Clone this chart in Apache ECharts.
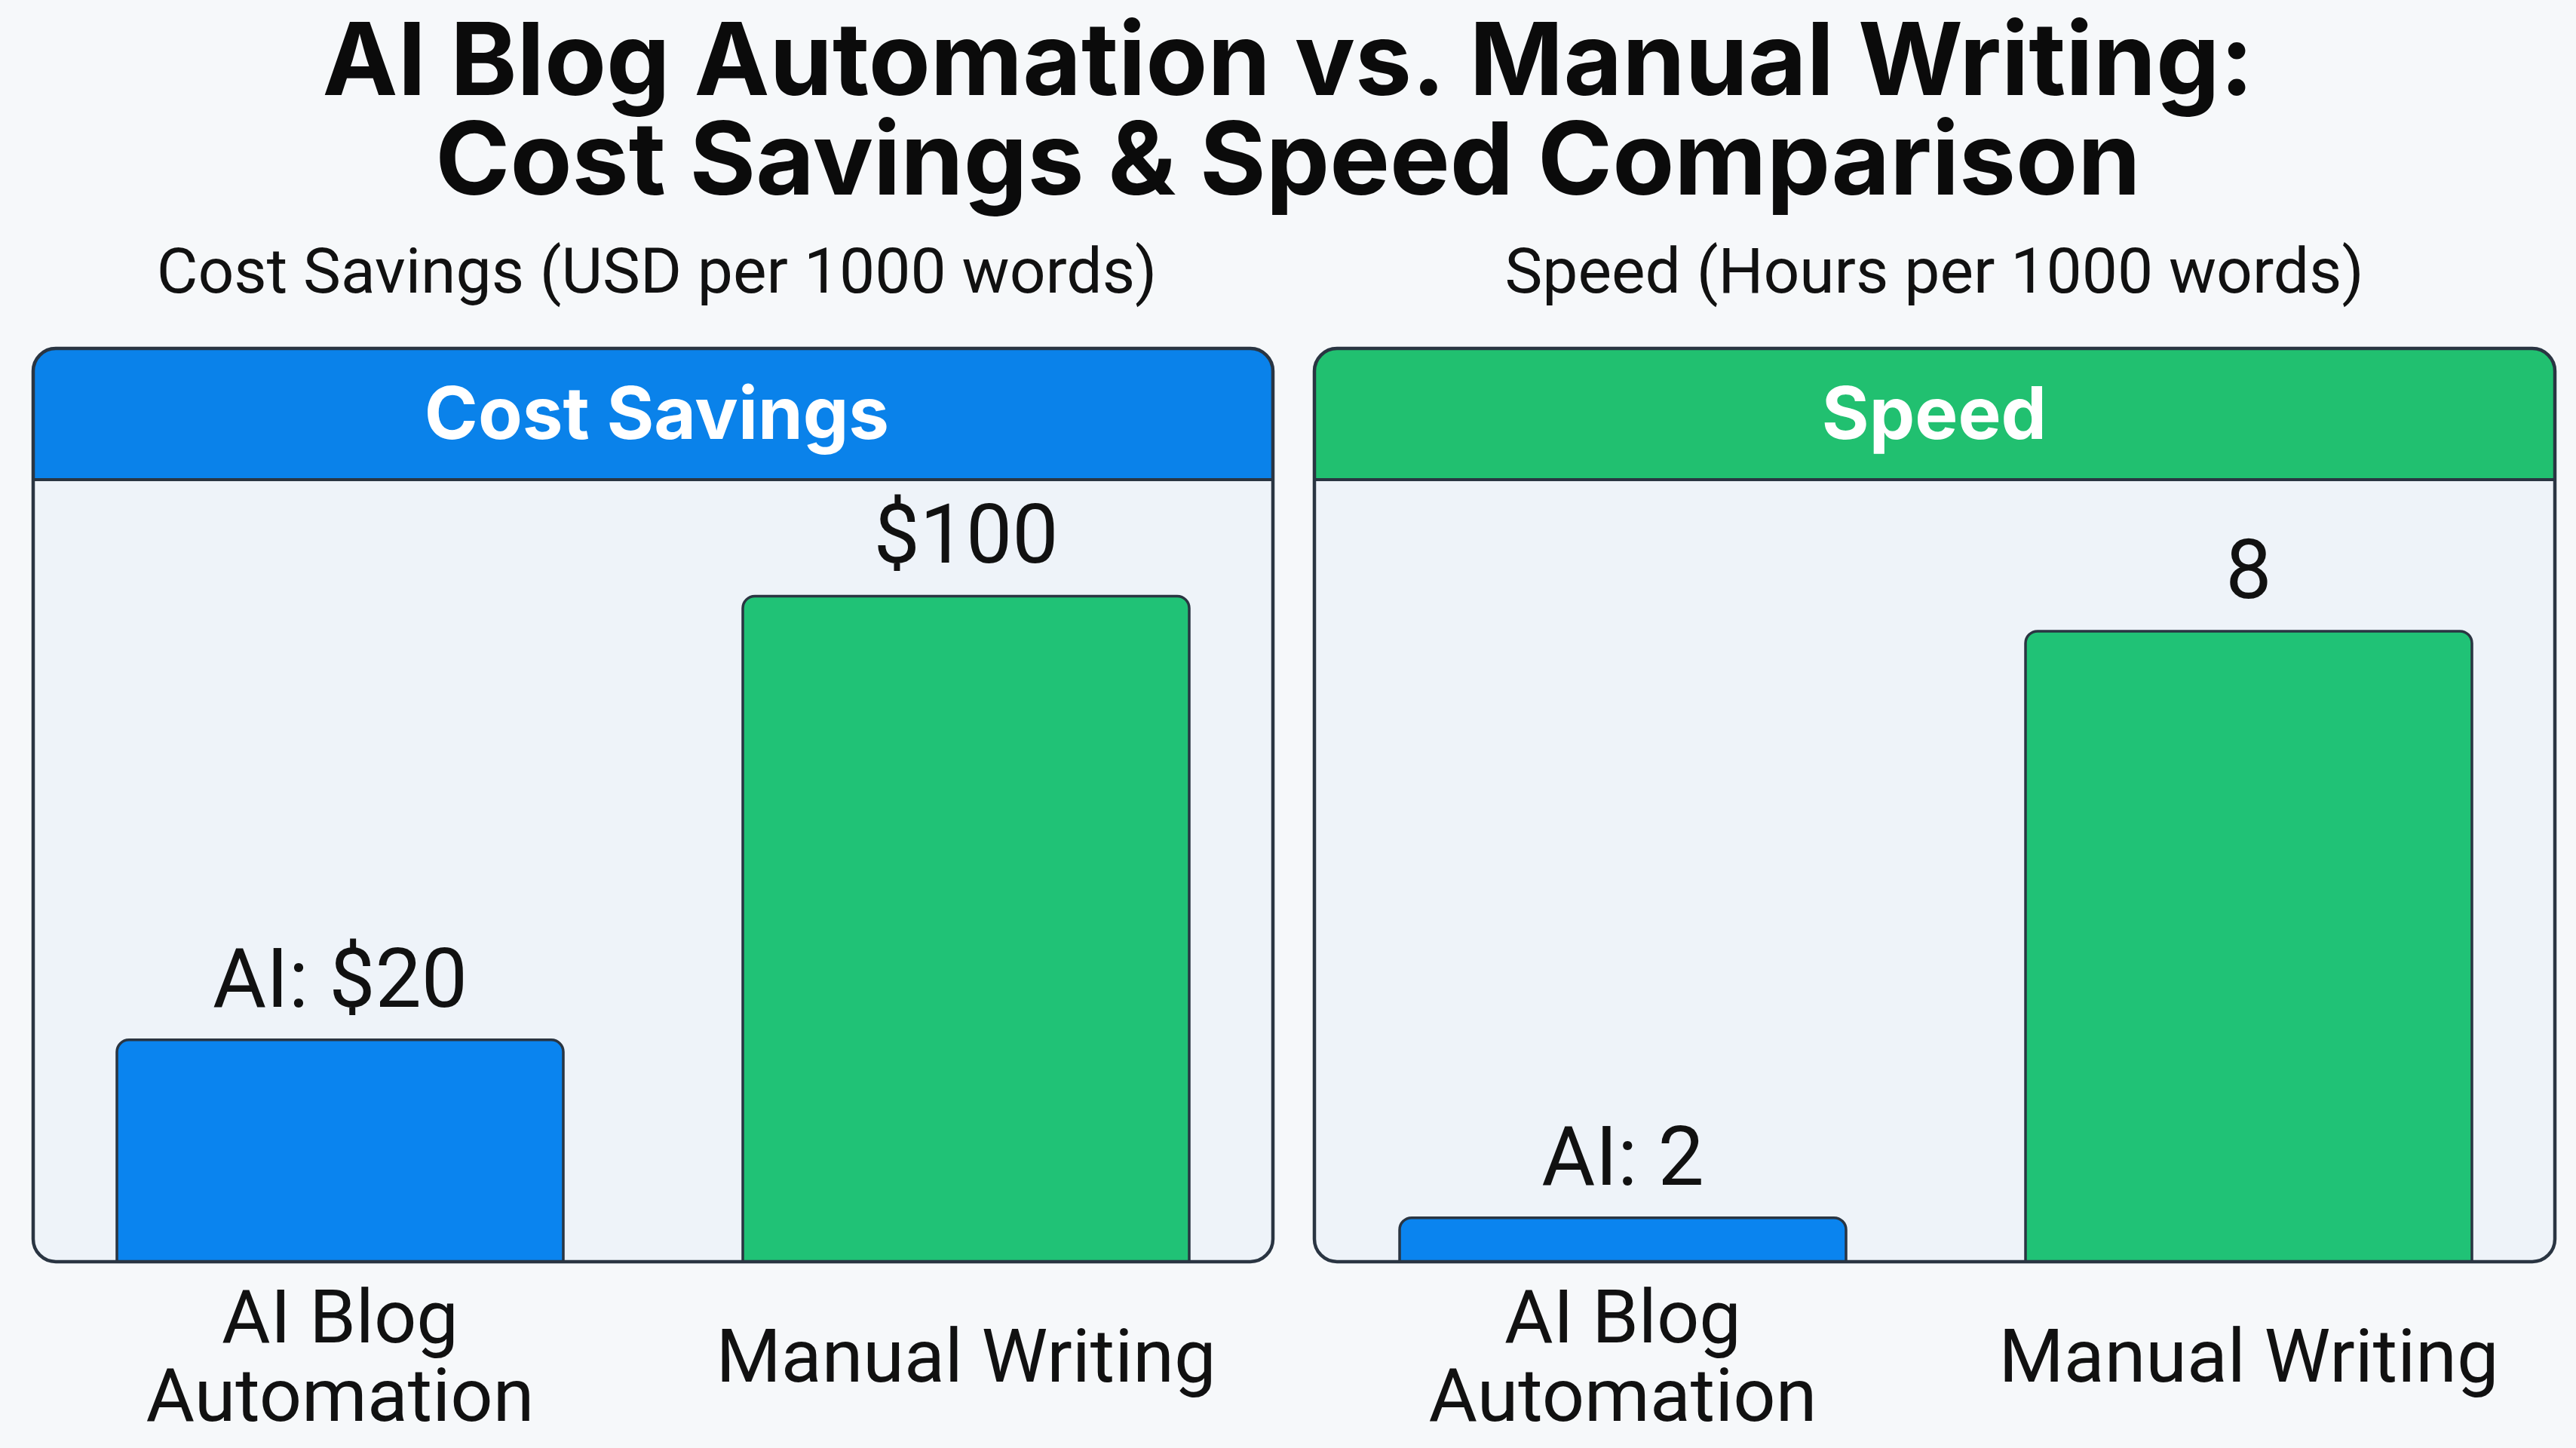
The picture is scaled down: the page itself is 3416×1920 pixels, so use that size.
<!DOCTYPE html>
<html><head><meta charset="utf-8">
<script src="https://cdn.jsdelivr.net/npm/echarts@6/dist/echarts.min.js"></script>
<style>html,body{margin:0;padding:0;background:#f5f7fa;}#c{width:3416px;height:1920px;}</style>
</head><body><div id="c"></div>
<script>
const categories = ['AI Blog\nAutomation', 'Manual Writing'];
const costValues = [20, 100];
const speedValues = [2, 8];
const costLabels = ['AI: $20', '$100'];
const speedLabels = ['AI: 2', '8'];
const mainTitle = 'AI Blog Automation vs. Manual Writing:\nCost Savings & Speed Comparison';
const subTitles = ['Cost Savings (USD per 1000 words)', 'Speed (Hours per 1000 words)'];
const panelTitles = ['Cost Savings', 'Speed'];

// axis ranges (the bars in the picture rise from the bottom of each panel)
const costAxis = {min: -20, max: 121};
const speedAxis = {min: 1.55, max: 9.55};

const BLUE = '#0a84ef', GREEN = '#20c276', EDGE = '#2a3542';
const BAR_COLORS = [BLUE, GREEN];
const panels = [{x: 44, w: 1644, head: '#0a82ea'}, {x: 1743, w: 1645, head: '#21c070'}];
const PT = 462, PB = 1673, HB = 636;

const chart = echarts.init(document.getElementById('c'));
const graphic = [];
panels.forEach(p => {
  graphic.push({type: 'rect', z: -10, shape: {x: p.x, y: PT, width: p.w, height: PB - PT, r: 30}, style: {fill: '#eef3f9'}});
  graphic.push({type: 'rect', z: -9, shape: {x: p.x, y: PT, width: p.w, height: HB - PT, r: [30, 30, 0, 0]}, style: {fill: p.head}});
  graphic.push({type: 'line', z: 50, shape: {x1: p.x, y1: HB, x2: p.x + p.w, y2: HB}, style: {stroke: EDGE, lineWidth: 4}});
  graphic.push({type: 'rect', z: 50, shape: {x: p.x, y: PT, width: p.w, height: PB - PT, r: 30}, style: {fill: 'none', stroke: EDGE, lineWidth: 4.5}});
});

function makeRender(base, labels) {
  return function (params, api) {
    const i = api.value(0);
    const v = api.value(1);
    const top = api.coord([i, v]);
    const bot = api.coord([i, base]);
    const w = 592;
    return {
      type: 'rect',
      shape: {x: top[0] - w / 2, y: top[1], width: w, height: bot[1] - top[1], r: [16, 16, 0, 0]},
      style: {fill: BAR_COLORS[i], stroke: EDGE, lineWidth: 3.5},
      textContent: {style: {text: labels[i], fontFamily: 'Roboto', fontSize: 109, fill: '#111'}},
      textConfig: {position: 'top', distance: 15}
    };
  };
}
const axisLabel = {fontFamily: 'Roboto', fontSize: 99, lineHeight: 104, color: '#111', verticalAlign: 'middle', margin: 134, interval: 0};

chart.setOption({
  backgroundColor: '#f6f8fa',
  animation: false,
  title: [
    {text: mainTitle, left: 'center', top: 15, textStyle: {fontFamily: 'Inter', fontWeight: 700, fontSize: 134, lineHeight: 132, color: '#0b0b0b'}},
    {text: subTitles[0], left: 866, top: 320, textAlign: 'center', textStyle: {fontFamily: 'Roboto', fontWeight: 400, fontSize: 84, color: '#111'}},
    {text: subTitles[1], left: 2560, top: 320, textAlign: 'center', textStyle: {fontFamily: 'Roboto', fontWeight: 400, fontSize: 84, color: '#111'}},
    {text: panelTitles[0], left: 866, top: 500, textAlign: 'center', textStyle: {fontFamily: 'Inter', fontWeight: 700, fontSize: 96, color: '#fff'}},
    {text: panelTitles[1], left: 2560, top: 500, textAlign: 'center', textStyle: {fontFamily: 'Inter', fontWeight: 700, fontSize: 96, color: '#fff'}}
  ],
  graphic: graphic,
  grid: [
    {left: 36, top: HB, width: 1660, height: PB - HB},
    {left: 1737, top: HB, width: 1660, height: PB - HB}
  ],
  xAxis: [0, 1].map(i => ({type: 'category', gridIndex: i, data: categories, axisLine: {show: false}, axisTick: {show: false}, axisLabel: axisLabel})),
  yAxis: [
    {type: 'value', gridIndex: 0, min: costAxis.min, max: costAxis.max, show: false, splitLine: {show: false}},
    {type: 'value', gridIndex: 1, min: speedAxis.min, max: speedAxis.max, show: false, splitLine: {show: false}}
  ],
  series: [
    {type: 'custom', xAxisIndex: 0, yAxisIndex: 0, encode: {x: 0, y: 1},
     data: costValues.map((v, i) => [i, v]), renderItem: makeRender(costAxis.min, costLabels)},
    {type: 'custom', xAxisIndex: 1, yAxisIndex: 1, encode: {x: 0, y: 1},
     data: speedValues.map((v, i) => [i, v]), renderItem: makeRender(speedAxis.min, speedLabels)}
  ]
});
</script></body></html>
